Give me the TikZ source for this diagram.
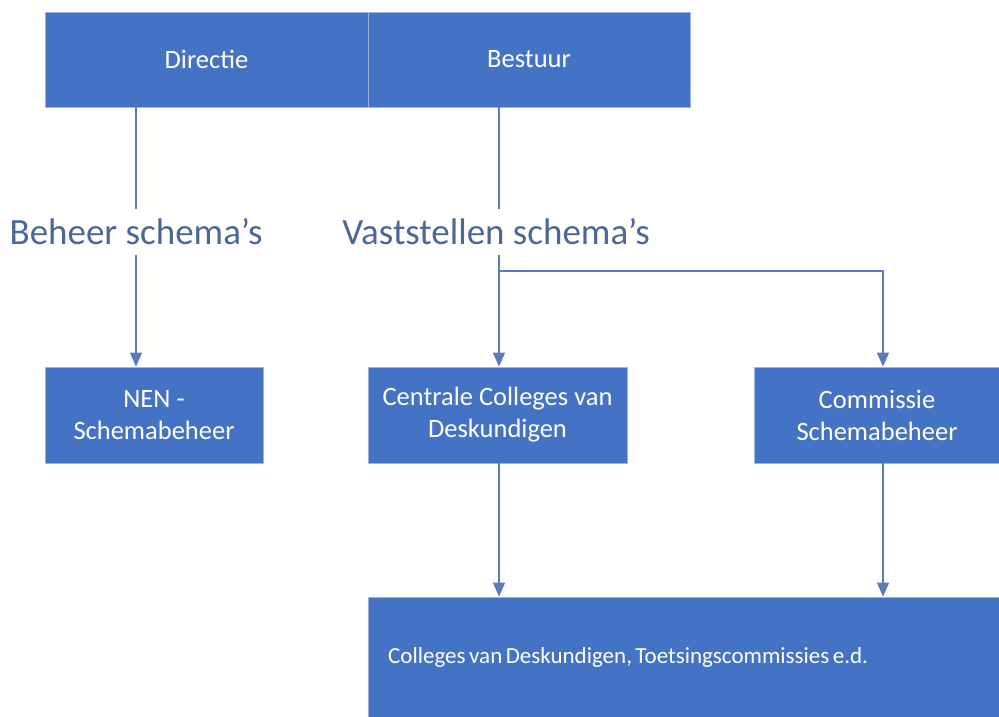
\documentclass[tikz,border=0pt]{standalone}
\usepackage{fontspec}
\setmainfont{Carlito}
\usetikzlibrary{arrows.meta}
\definecolor{boxblue}{HTML}{4472C4}
\definecolor{boxedge}{HTML}{9DB4DF}
\definecolor{linecol}{HTML}{5B7CBB}
\definecolor{labcol}{HTML}{4A6798}
\begin{document}
\begin{tikzpicture}[x=1pt,y=-1pt,
  box/.style={draw=boxedge, line width=0.8pt, fill=boxblue, text=white,
    font=\fontsize{26.5}{32}\selectfont, align=center, inner sep=0pt},
  boxtext/.style={text=white, font=\fontsize{23}{28}\selectfont, inner sep=0pt},
  conn/.style={draw=linecol, line width=1.4pt},
  arr/.style={conn, -{Triangle[width=12pt,length=14pt]}},
  lab/.style={text=labcol, font=\fontsize{37}{40}\selectfont, inner sep=0pt, minimum height=46pt}]
\useasboundingbox (0,0) rectangle (999,716);
% top boxes
\node[box, minimum width=323pt, minimum height=95pt] (dir) at (206.5,59.5) {Directie};
\node[box, minimum width=322pt, minimum height=95pt] (bes) at (529,59.5) {Bestuur};
% labels
\node[lab] (lbeh) at (136,232) {Beheer schema’s};
\node[lab] (lvast) at (496,232) {Vaststellen schema’s};
% middle boxes
\node[box, minimum width=218pt, minimum height=96pt] (nen) at (154,415) {NEN -\\Schemabeheer};
\node[box, minimum width=259pt, minimum height=96pt] (cen) at (497.5,415) {Centrale Colleges van\\Deskundigen};
\node[box, minimum width=246pt, minimum height=96pt] (com) at (877,415) {Commissie\\Schemabeheer};
% bottom box
\node[box, minimum width=634pt, minimum height=124pt] (bot) at (685,659) {};
\node[boxtext, anchor=west] (bott) at (388,657) {\spaceskip=3.5pt plus 1pt\relax Colleges van Deskundigen, Toetsingscommissies e.d.};
% coordinates
\coordinate (a) at (136,271);
\coordinate (j) at (499,271);
\coordinate (k) at (883,271);
% connectors
\draw[conn] (dir.south -| a) -- (a |- lbeh.north);
\draw[arr] (a |- lbeh.south) -- (a |- nen.north);
\draw[conn] (bes.south -| j) -- (j |- lvast.north);
\draw[conn] (j |- lvast.south) -- (j);
\draw[arr] (j) -- (j |- cen.north);
\draw[arr] (j) -- (k) -- (k |- com.north);
\draw[arr] (cen.south -| j) -- (j |- bot.north);
\draw[arr] (com.south -| k) -- (k |- bot.north);
\end{tikzpicture}
\end{document}
